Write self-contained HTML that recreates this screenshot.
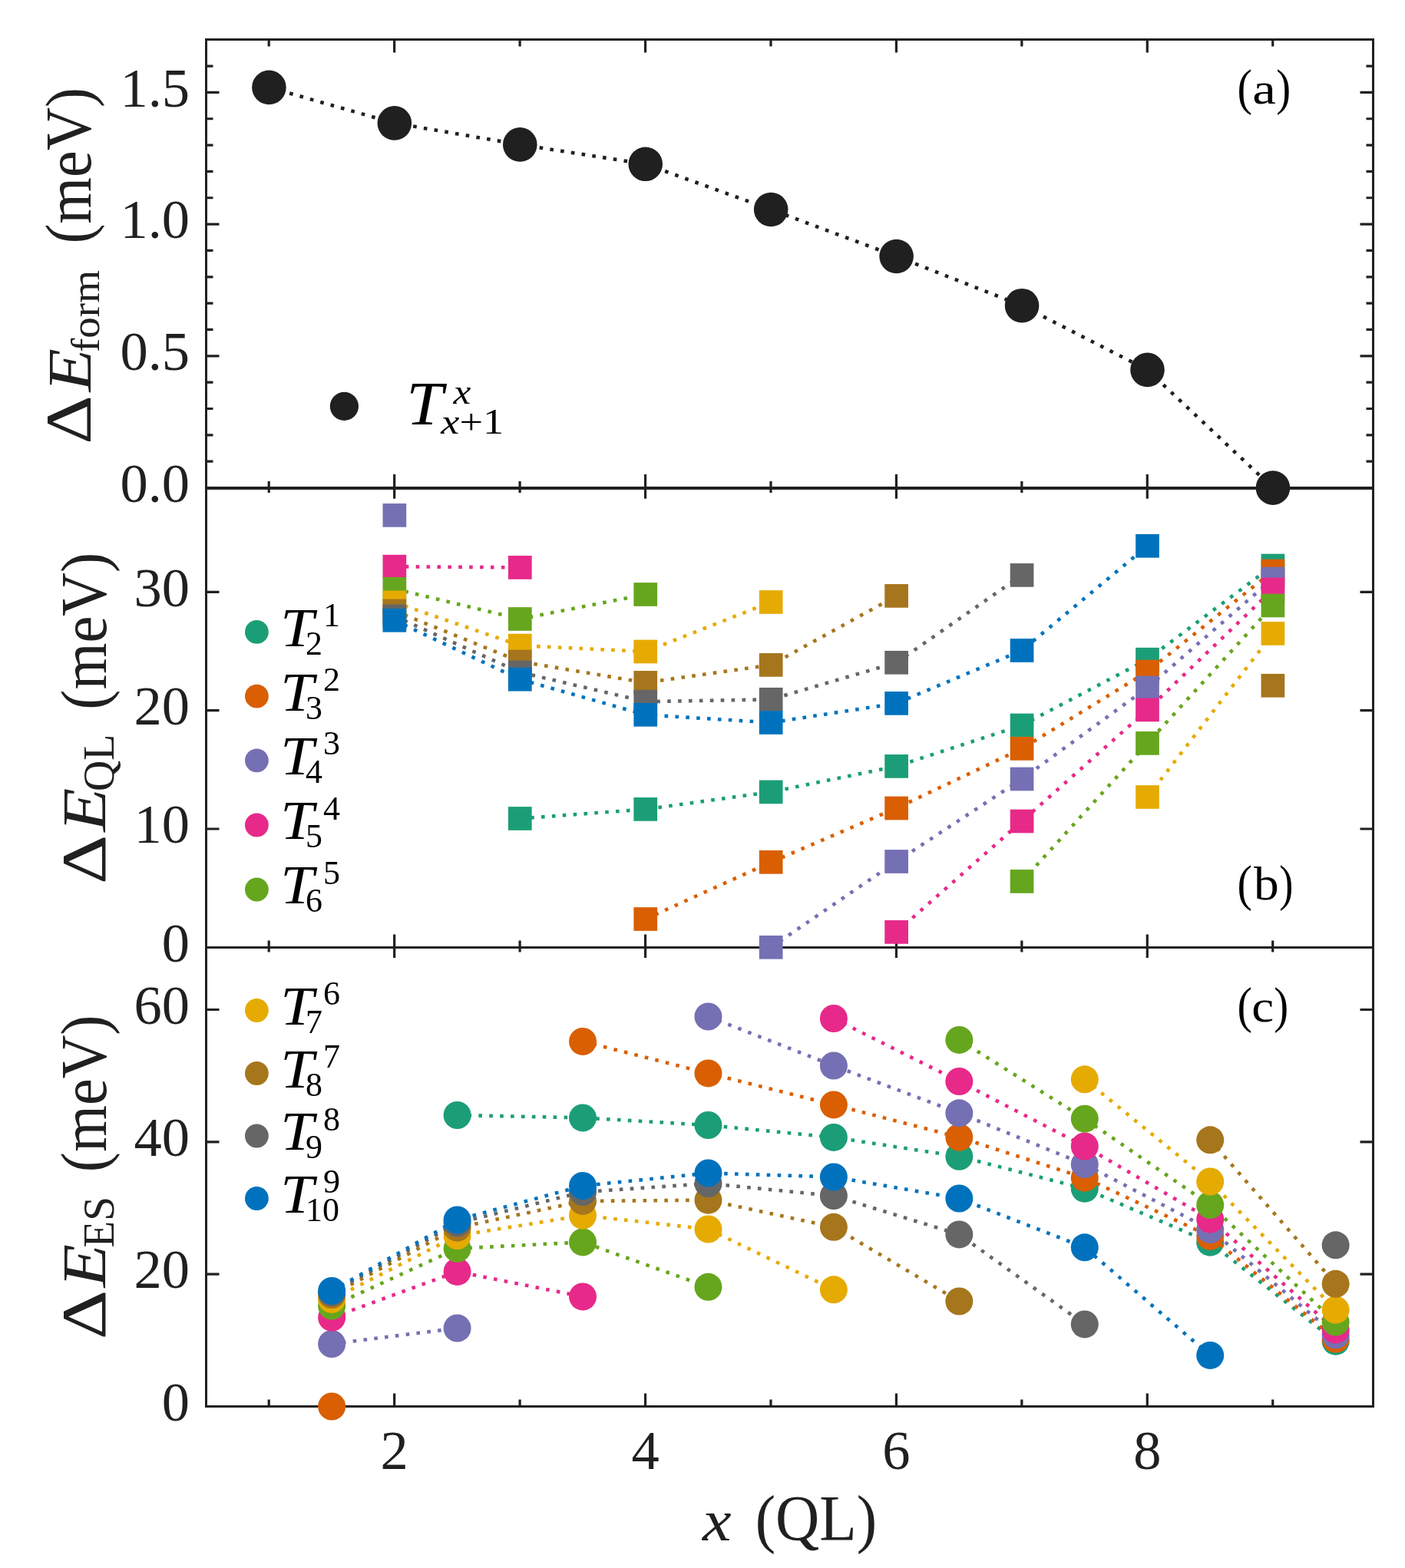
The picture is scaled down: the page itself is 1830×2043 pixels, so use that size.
<!DOCTYPE html>
<html><head><meta charset="utf-8"><title>Figure</title>
<style>
html,body{margin:0;padding:0;background:#fff;}
body{width:1830px;height:2043px;overflow:hidden;}
svg{display:block;font-family:'Liberation Serif', 'DejaVu Serif', serif;}
</style></head>
<body>
<svg width="1830" height="2043" viewBox="0 0 1830 2043">
<rect width="1830" height="2043" fill="#fff"/>
<path d="M350.22 51.5L350.22 60.5 M350.22 636L350.22 627 M350.22 636L350.22 642 M350.22 1234.5L350.22 1225.5 M350.22 1234.5L350.22 1240.5 M350.22 1832.5L350.22 1823.5 M513.66 51.5L513.66 68.5 M513.66 636L513.66 618 M513.66 636L513.66 649.8 M513.66 1234.5L513.66 1217.5 M513.66 1234.5L513.66 1247.9 M513.66 1832.5L513.66 1815.5 M677.1 51.5L677.1 60.5 M677.1 636L677.1 627 M677.1 636L677.1 642 M677.1 1234.5L677.1 1225.5 M677.1 1234.5L677.1 1240.5 M677.1 1832.5L677.1 1823.5 M840.54 51.5L840.54 68.5 M840.54 636L840.54 618 M840.54 636L840.54 649.8 M840.54 1234.5L840.54 1217.5 M840.54 1234.5L840.54 1247.9 M840.54 1832.5L840.54 1815.5 M1003.98 51.5L1003.98 60.5 M1003.98 636L1003.98 627 M1003.98 636L1003.98 642 M1003.98 1234.5L1003.98 1225.5 M1003.98 1234.5L1003.98 1240.5 M1003.98 1832.5L1003.98 1823.5 M1167.42 51.5L1167.42 68.5 M1167.42 636L1167.42 618 M1167.42 636L1167.42 649.8 M1167.42 1234.5L1167.42 1217.5 M1167.42 1234.5L1167.42 1247.9 M1167.42 1832.5L1167.42 1815.5 M1330.86 51.5L1330.86 60.5 M1330.86 636L1330.86 627 M1330.86 636L1330.86 642 M1330.86 1234.5L1330.86 1225.5 M1330.86 1234.5L1330.86 1240.5 M1330.86 1832.5L1330.86 1823.5 M1494.3 51.5L1494.3 68.5 M1494.3 636L1494.3 618 M1494.3 636L1494.3 649.8 M1494.3 1234.5L1494.3 1217.5 M1494.3 1234.5L1494.3 1247.9 M1494.3 1832.5L1494.3 1815.5 M1657.74 51.5L1657.74 60.5 M1657.74 636L1657.74 627 M1657.74 636L1657.74 642 M1657.74 1234.5L1657.74 1225.5 M1657.74 1234.5L1657.74 1240.5 M1657.74 1832.5L1657.74 1823.5 M268.5 601.16L277.5 601.16 M1788.5 601.16L1779.5 601.16 M268.5 566.82L277.5 566.82 M1788.5 566.82L1779.5 566.82 M268.5 532.48L277.5 532.48 M1788.5 532.48L1779.5 532.48 M268.5 498.14L277.5 498.14 M1788.5 498.14L1779.5 498.14 M268.5 463.8L285.5 463.8 M1788.5 463.8L1771.5 463.8 M268.5 429.46L277.5 429.46 M1788.5 429.46L1779.5 429.46 M268.5 395.12L277.5 395.12 M1788.5 395.12L1779.5 395.12 M268.5 360.78L277.5 360.78 M1788.5 360.78L1779.5 360.78 M268.5 326.44L277.5 326.44 M1788.5 326.44L1779.5 326.44 M268.5 292.1L285.5 292.1 M1788.5 292.1L1771.5 292.1 M268.5 257.76L277.5 257.76 M1788.5 257.76L1779.5 257.76 M268.5 223.42L277.5 223.42 M1788.5 223.42L1779.5 223.42 M268.5 189.08L277.5 189.08 M1788.5 189.08L1779.5 189.08 M268.5 154.74L277.5 154.74 M1788.5 154.74L1779.5 154.74 M268.5 120.4L285.5 120.4 M1788.5 120.4L1771.5 120.4 M268.5 86.06L277.5 86.06 M1788.5 86.06L1779.5 86.06 M268.5 1080L285.5 1080 M1788.5 1080L1771.5 1080 M268.5 925.7L285.5 925.7 M1788.5 925.7L1771.5 925.7 M268.5 771.4L285.5 771.4 M1788.5 771.4L1771.5 771.4 M268.5 1660.1L285.5 1660.1 M1788.5 1660.1L1771.5 1660.1 M268.5 1487.8L285.5 1487.8 M1788.5 1487.8L1771.5 1487.8 M268.5 1315.5L285.5 1315.5 M1788.5 1315.5L1771.5 1315.5" stroke="#202020" stroke-width="3.2" fill="none"/>
<rect x="268.5" y="51.5" width="1520" height="1781" fill="none" stroke="#202020" stroke-width="3"/>
<line x1="268.5" y1="636" x2="1788.5" y2="636" stroke="#202020" stroke-width="4"/>
<line x1="268.5" y1="1234.5" x2="1788.5" y2="1234.5" stroke="#202020" stroke-width="3"/>
<path d="M350.42 113.9 L513.86 160.4 L677.3 188.4 L840.74 213.8 L1004.18 273 L1167.62 334 L1331.06 398.2 L1494.5 481.9 L1657.94 635.6" fill="none" stroke="#202020" stroke-width="4.6" stroke-dasharray="4.6 9.3"/>
<circle cx="350.42" cy="113.9" r="22.3" fill="#202020"/>
<circle cx="513.86" cy="160.4" r="22.3" fill="#202020"/>
<circle cx="677.3" cy="188.4" r="22.3" fill="#202020"/>
<circle cx="840.74" cy="213.8" r="22.3" fill="#202020"/>
<circle cx="1004.18" cy="273" r="22.3" fill="#202020"/>
<circle cx="1167.62" cy="334" r="22.3" fill="#202020"/>
<circle cx="1331.06" cy="398.2" r="22.3" fill="#202020"/>
<circle cx="1494.5" cy="481.9" r="22.3" fill="#202020"/>
<circle cx="1657.94" cy="635.6" r="22.3" fill="#202020"/>
<path d="M677.3 1066.5 L840.74 1054.4 L1004.18 1031.9 L1167.62 998.4 L1331.06 945 L1494.5 859.2 L1657.94 737" fill="none" stroke="#1b9e77" stroke-width="4.6" stroke-dasharray="4.6 9.3"/>
<rect x="661.95" y="1051.15" width="30.7" height="30.7" fill="#1b9e77"/>
<rect x="825.39" y="1039.05" width="30.7" height="30.7" fill="#1b9e77"/>
<rect x="988.83" y="1016.55" width="30.7" height="30.7" fill="#1b9e77"/>
<rect x="1152.27" y="983.05" width="30.7" height="30.7" fill="#1b9e77"/>
<rect x="1315.71" y="929.65" width="30.7" height="30.7" fill="#1b9e77"/>
<rect x="1479.15" y="843.85" width="30.7" height="30.7" fill="#1b9e77"/>
<rect x="1642.59" y="721.65" width="30.7" height="30.7" fill="#1b9e77"/>
<path d="M840.74 1197.5 L1004.18 1123.3 L1167.62 1053 L1331.06 975.4 L1494.5 875.1 L1657.94 744" fill="none" stroke="#d95f02" stroke-width="4.6" stroke-dasharray="4.6 9.3"/>
<rect x="825.39" y="1182.15" width="30.7" height="30.7" fill="#d95f02"/>
<rect x="988.83" y="1107.95" width="30.7" height="30.7" fill="#d95f02"/>
<rect x="1152.27" y="1037.65" width="30.7" height="30.7" fill="#d95f02"/>
<rect x="1315.71" y="960.05" width="30.7" height="30.7" fill="#d95f02"/>
<rect x="1479.15" y="859.75" width="30.7" height="30.7" fill="#d95f02"/>
<rect x="1642.59" y="728.65" width="30.7" height="30.7" fill="#d95f02"/>
<rect x="498.51" y="656.05" width="30.7" height="30.7" fill="#7570b3"/>
<path d="M1004.18 1234.3 L1167.62 1122.5 L1331.06 1015 L1494.5 896 L1657.94 754" fill="none" stroke="#7570b3" stroke-width="4.6" stroke-dasharray="4.6 9.3"/>
<rect x="988.83" y="1218.95" width="30.7" height="30.7" fill="#7570b3"/>
<rect x="1152.27" y="1107.15" width="30.7" height="30.7" fill="#7570b3"/>
<rect x="1315.71" y="999.65" width="30.7" height="30.7" fill="#7570b3"/>
<rect x="1479.15" y="880.65" width="30.7" height="30.7" fill="#7570b3"/>
<rect x="1642.59" y="738.65" width="30.7" height="30.7" fill="#7570b3"/>
<path d="M513.86 738.2 L677.3 739.4" fill="none" stroke="#e7298a" stroke-width="4.6" stroke-dasharray="4.6 9.3"/>
<rect x="498.51" y="722.85" width="30.7" height="30.7" fill="#e7298a"/>
<rect x="661.95" y="724.05" width="30.7" height="30.7" fill="#e7298a"/>
<path d="M1167.62 1214.4 L1331.06 1070 L1494.5 924.9 L1657.94 768" fill="none" stroke="#e7298a" stroke-width="4.6" stroke-dasharray="4.6 9.3"/>
<rect x="1152.27" y="1199.05" width="30.7" height="30.7" fill="#e7298a"/>
<rect x="1315.71" y="1054.65" width="30.7" height="30.7" fill="#e7298a"/>
<rect x="1479.15" y="909.55" width="30.7" height="30.7" fill="#e7298a"/>
<rect x="1642.59" y="752.65" width="30.7" height="30.7" fill="#e7298a"/>
<path d="M513.86 767.3 L677.3 806.5 L840.74 774.5" fill="none" stroke="#66a61e" stroke-width="4.6" stroke-dasharray="4.6 9.3"/>
<rect x="498.51" y="751.95" width="30.7" height="30.7" fill="#66a61e"/>
<rect x="661.95" y="791.15" width="30.7" height="30.7" fill="#66a61e"/>
<rect x="825.39" y="759.15" width="30.7" height="30.7" fill="#66a61e"/>
<path d="M1331.06 1148.4 L1494.5 968.4 L1657.94 789" fill="none" stroke="#66a61e" stroke-width="4.6" stroke-dasharray="4.6 9.3"/>
<rect x="1315.71" y="1133.05" width="30.7" height="30.7" fill="#66a61e"/>
<rect x="1479.15" y="953.05" width="30.7" height="30.7" fill="#66a61e"/>
<rect x="1642.59" y="773.65" width="30.7" height="30.7" fill="#66a61e"/>
<path d="M513.86 784.9 L677.3 841.1 L840.74 849 L1004.18 784.5" fill="none" stroke="#e6ab02" stroke-width="4.6" stroke-dasharray="4.6 9.3"/>
<rect x="498.51" y="769.55" width="30.7" height="30.7" fill="#e6ab02"/>
<rect x="661.95" y="825.75" width="30.7" height="30.7" fill="#e6ab02"/>
<rect x="825.39" y="833.65" width="30.7" height="30.7" fill="#e6ab02"/>
<rect x="988.83" y="769.15" width="30.7" height="30.7" fill="#e6ab02"/>
<path d="M1494.5 1038.5 L1657.94 825.4" fill="none" stroke="#e6ab02" stroke-width="4.6" stroke-dasharray="4.6 9.3"/>
<rect x="1479.15" y="1023.15" width="30.7" height="30.7" fill="#e6ab02"/>
<rect x="1642.59" y="810.05" width="30.7" height="30.7" fill="#e6ab02"/>
<path d="M513.86 795.9 L677.3 862 L840.74 889.4 L1004.18 866.4 L1167.62 776.4" fill="none" stroke="#a6761d" stroke-width="4.6" stroke-dasharray="4.6 9.3"/>
<rect x="498.51" y="780.55" width="30.7" height="30.7" fill="#a6761d"/>
<rect x="661.95" y="846.65" width="30.7" height="30.7" fill="#a6761d"/>
<rect x="825.39" y="874.05" width="30.7" height="30.7" fill="#a6761d"/>
<rect x="988.83" y="851.05" width="30.7" height="30.7" fill="#a6761d"/>
<rect x="1152.27" y="761.05" width="30.7" height="30.7" fill="#a6761d"/>
<rect x="1642.59" y="877.95" width="30.7" height="30.7" fill="#a6761d"/>
<path d="M513.86 802.9 L677.3 875.9 L840.74 914.2 L1004.18 911.3 L1167.62 863.3 L1331.06 749.4" fill="none" stroke="#666666" stroke-width="4.6" stroke-dasharray="4.6 9.3"/>
<rect x="498.51" y="787.55" width="30.7" height="30.7" fill="#666666"/>
<rect x="661.95" y="860.55" width="30.7" height="30.7" fill="#666666"/>
<rect x="825.39" y="898.85" width="30.7" height="30.7" fill="#666666"/>
<rect x="988.83" y="895.95" width="30.7" height="30.7" fill="#666666"/>
<rect x="1152.27" y="847.95" width="30.7" height="30.7" fill="#666666"/>
<rect x="1315.71" y="734.05" width="30.7" height="30.7" fill="#666666"/>
<path d="M513.86 808.3 L677.3 885.2 L840.74 931.3 L1004.18 941.5 L1167.62 916.4 L1331.06 847.5 L1494.5 711.3" fill="none" stroke="#0072bd" stroke-width="4.6" stroke-dasharray="4.6 9.3"/>
<rect x="498.51" y="792.95" width="30.7" height="30.7" fill="#0072bd"/>
<rect x="661.95" y="869.85" width="30.7" height="30.7" fill="#0072bd"/>
<rect x="825.39" y="915.95" width="30.7" height="30.7" fill="#0072bd"/>
<rect x="988.83" y="926.15" width="30.7" height="30.7" fill="#0072bd"/>
<rect x="1152.27" y="901.05" width="30.7" height="30.7" fill="#0072bd"/>
<rect x="1315.71" y="832.15" width="30.7" height="30.7" fill="#0072bd"/>
<rect x="1479.15" y="695.95" width="30.7" height="30.7" fill="#0072bd"/>
<path d="M595.58 1453 L759.02 1456.4 L922.46 1466 L1085.9 1481.9 L1249.34 1506.8 L1412.78 1548.7 L1576.22 1618.7 L1739.66 1747.7" fill="none" stroke="#1b9e77" stroke-width="4.6" stroke-dasharray="4.6 9.3"/>
<circle cx="595.58" cy="1453" r="18" fill="#1b9e77"/>
<circle cx="759.02" cy="1456.4" r="18" fill="#1b9e77"/>
<circle cx="922.46" cy="1466" r="18" fill="#1b9e77"/>
<circle cx="1085.9" cy="1481.9" r="18" fill="#1b9e77"/>
<circle cx="1249.34" cy="1506.8" r="18" fill="#1b9e77"/>
<circle cx="1412.78" cy="1548.7" r="18" fill="#1b9e77"/>
<circle cx="1576.22" cy="1618.7" r="18" fill="#1b9e77"/>
<circle cx="1739.66" cy="1747.7" r="18" fill="#1b9e77"/>
<circle cx="432.14" cy="1832.5" r="18" fill="#d95f02"/>
<path d="M759.02 1356.9 L922.46 1398.4 L1085.9 1439.4 L1249.34 1481.8 L1412.78 1534.7 L1576.22 1610.8 L1739.66 1744.7" fill="none" stroke="#d95f02" stroke-width="4.6" stroke-dasharray="4.6 9.3"/>
<circle cx="759.02" cy="1356.9" r="18" fill="#d95f02"/>
<circle cx="922.46" cy="1398.4" r="18" fill="#d95f02"/>
<circle cx="1085.9" cy="1439.4" r="18" fill="#d95f02"/>
<circle cx="1249.34" cy="1481.8" r="18" fill="#d95f02"/>
<circle cx="1412.78" cy="1534.7" r="18" fill="#d95f02"/>
<circle cx="1576.22" cy="1610.8" r="18" fill="#d95f02"/>
<circle cx="1739.66" cy="1744.7" r="18" fill="#d95f02"/>
<path d="M432.14 1751 L595.58 1730.5" fill="none" stroke="#7570b3" stroke-width="4.6" stroke-dasharray="4.6 9.3"/>
<circle cx="432.14" cy="1751" r="18" fill="#7570b3"/>
<circle cx="595.58" cy="1730.5" r="18" fill="#7570b3"/>
<path d="M922.46 1324.5 L1085.9 1388.5 L1249.34 1450.3 L1412.78 1517 L1576.22 1602 L1739.66 1739.3" fill="none" stroke="#7570b3" stroke-width="4.6" stroke-dasharray="4.6 9.3"/>
<circle cx="922.46" cy="1324.5" r="18" fill="#7570b3"/>
<circle cx="1085.9" cy="1388.5" r="18" fill="#7570b3"/>
<circle cx="1249.34" cy="1450.3" r="18" fill="#7570b3"/>
<circle cx="1412.78" cy="1517" r="18" fill="#7570b3"/>
<circle cx="1576.22" cy="1602" r="18" fill="#7570b3"/>
<circle cx="1739.66" cy="1739.3" r="18" fill="#7570b3"/>
<path d="M432.14 1716.7 L595.58 1656.9 L759.02 1689.4" fill="none" stroke="#e7298a" stroke-width="4.6" stroke-dasharray="4.6 9.3"/>
<circle cx="432.14" cy="1716.7" r="18" fill="#e7298a"/>
<circle cx="595.58" cy="1656.9" r="18" fill="#e7298a"/>
<circle cx="759.02" cy="1689.4" r="18" fill="#e7298a"/>
<path d="M1085.9 1327 L1249.34 1409 L1412.78 1493.5 L1576.22 1588.7 L1739.66 1732.6" fill="none" stroke="#e7298a" stroke-width="4.6" stroke-dasharray="4.6 9.3"/>
<circle cx="1085.9" cy="1327" r="18" fill="#e7298a"/>
<circle cx="1249.34" cy="1409" r="18" fill="#e7298a"/>
<circle cx="1412.78" cy="1493.5" r="18" fill="#e7298a"/>
<circle cx="1576.22" cy="1588.7" r="18" fill="#e7298a"/>
<circle cx="1739.66" cy="1732.6" r="18" fill="#e7298a"/>
<path d="M432.14 1701.7 L595.58 1626.8 L759.02 1618.4 L922.46 1676.8" fill="none" stroke="#66a61e" stroke-width="4.6" stroke-dasharray="4.6 9.3"/>
<circle cx="432.14" cy="1701.7" r="18" fill="#66a61e"/>
<circle cx="595.58" cy="1626.8" r="18" fill="#66a61e"/>
<circle cx="759.02" cy="1618.4" r="18" fill="#66a61e"/>
<circle cx="922.46" cy="1676.8" r="18" fill="#66a61e"/>
<path d="M1249.34 1354.9 L1412.78 1457.7 L1576.22 1570 L1739.66 1722.6" fill="none" stroke="#66a61e" stroke-width="4.6" stroke-dasharray="4.6 9.3"/>
<circle cx="1249.34" cy="1354.9" r="18" fill="#66a61e"/>
<circle cx="1412.78" cy="1457.7" r="18" fill="#66a61e"/>
<circle cx="1576.22" cy="1570" r="18" fill="#66a61e"/>
<circle cx="1739.66" cy="1722.6" r="18" fill="#66a61e"/>
<path d="M432.14 1692.9 L595.58 1610 L759.02 1583.7 L922.46 1601.5 L1085.9 1680.3" fill="none" stroke="#e6ab02" stroke-width="4.6" stroke-dasharray="4.6 9.3"/>
<circle cx="432.14" cy="1692.9" r="18" fill="#e6ab02"/>
<circle cx="595.58" cy="1610" r="18" fill="#e6ab02"/>
<circle cx="759.02" cy="1583.7" r="18" fill="#e6ab02"/>
<circle cx="922.46" cy="1601.5" r="18" fill="#e6ab02"/>
<circle cx="1085.9" cy="1680.3" r="18" fill="#e6ab02"/>
<path d="M1412.78 1406.3 L1576.22 1539.5 L1739.66 1706.7" fill="none" stroke="#e6ab02" stroke-width="4.6" stroke-dasharray="4.6 9.3"/>
<circle cx="1412.78" cy="1406.3" r="18" fill="#e6ab02"/>
<circle cx="1576.22" cy="1539.5" r="18" fill="#e6ab02"/>
<circle cx="1739.66" cy="1706.7" r="18" fill="#e6ab02"/>
<path d="M432.14 1687 L595.58 1599.7 L759.02 1564.9 L922.46 1563.7 L1085.9 1598.8 L1249.34 1695.5" fill="none" stroke="#a6761d" stroke-width="4.6" stroke-dasharray="4.6 9.3"/>
<circle cx="432.14" cy="1687" r="18" fill="#a6761d"/>
<circle cx="595.58" cy="1599.7" r="18" fill="#a6761d"/>
<circle cx="759.02" cy="1564.9" r="18" fill="#a6761d"/>
<circle cx="922.46" cy="1563.7" r="18" fill="#a6761d"/>
<circle cx="1085.9" cy="1598.8" r="18" fill="#a6761d"/>
<circle cx="1249.34" cy="1695.5" r="18" fill="#a6761d"/>
<path d="M1576.22 1485.3 L1739.66 1672.8" fill="none" stroke="#a6761d" stroke-width="4.6" stroke-dasharray="4.6 9.3"/>
<circle cx="1576.22" cy="1485.3" r="18" fill="#a6761d"/>
<circle cx="1739.66" cy="1672.8" r="18" fill="#a6761d"/>
<path d="M432.14 1684 L595.58 1593.6 L759.02 1553.1 L922.46 1542 L1085.9 1558.1 L1249.34 1608.4 L1412.78 1725.4" fill="none" stroke="#666666" stroke-width="4.6" stroke-dasharray="4.6 9.3"/>
<circle cx="432.14" cy="1684" r="18" fill="#666666"/>
<circle cx="595.58" cy="1593.6" r="18" fill="#666666"/>
<circle cx="759.02" cy="1553.1" r="18" fill="#666666"/>
<circle cx="922.46" cy="1542" r="18" fill="#666666"/>
<circle cx="1085.9" cy="1558.1" r="18" fill="#666666"/>
<circle cx="1249.34" cy="1608.4" r="18" fill="#666666"/>
<circle cx="1412.78" cy="1725.4" r="18" fill="#666666"/>
<circle cx="1739.66" cy="1622.3" r="18" fill="#666666"/>
<path d="M432.14 1681.9 L595.58 1589.5 L759.02 1545 L922.46 1528.5 L1085.9 1533.5 L1249.34 1561.5 L1412.78 1625.3 L1576.22 1765.9" fill="none" stroke="#0072bd" stroke-width="4.6" stroke-dasharray="4.6 9.3"/>
<circle cx="432.14" cy="1681.9" r="18" fill="#0072bd"/>
<circle cx="595.58" cy="1589.5" r="18" fill="#0072bd"/>
<circle cx="759.02" cy="1545" r="18" fill="#0072bd"/>
<circle cx="922.46" cy="1528.5" r="18" fill="#0072bd"/>
<circle cx="1085.9" cy="1533.5" r="18" fill="#0072bd"/>
<circle cx="1249.34" cy="1561.5" r="18" fill="#0072bd"/>
<circle cx="1412.78" cy="1625.3" r="18" fill="#0072bd"/>
<circle cx="1576.22" cy="1765.9" r="18" fill="#0072bd"/>
<text x="247" y="653.84" font-size="72.5" text-anchor="end" fill="#202020">0.0</text>
<text x="247" y="482.14" font-size="72.5" text-anchor="end" fill="#202020">0.5</text>
<text x="247" y="310.44" font-size="72.5" text-anchor="end" fill="#202020">1.0</text>
<text x="247" y="138.74" font-size="72.5" text-anchor="end" fill="#202020">1.5</text>
<text x="247" y="1252.64" font-size="72.5" text-anchor="end" fill="#202020">0</text>
<text x="247" y="1098.34" font-size="72.5" text-anchor="end" fill="#202020">10</text>
<text x="247" y="944.04" font-size="72.5" text-anchor="end" fill="#202020">20</text>
<text x="247" y="789.74" font-size="72.5" text-anchor="end" fill="#202020">30</text>
<text x="247" y="1850.74" font-size="72.5" text-anchor="end" fill="#202020">0</text>
<text x="247" y="1678.44" font-size="72.5" text-anchor="end" fill="#202020">20</text>
<text x="247" y="1506.14" font-size="72.5" text-anchor="end" fill="#202020">40</text>
<text x="247" y="1333.84" font-size="72.5" text-anchor="end" fill="#202020">60</text>
<text x="513.66" y="1914.24" font-size="72.5" text-anchor="middle" fill="#202020">2</text>
<text x="840.54" y="1914.24" font-size="72.5" text-anchor="middle" fill="#202020">4</text>
<text x="1167.42" y="1914.24" font-size="72.5" text-anchor="middle" fill="#202020">6</text>
<text x="1494.3" y="1914.24" font-size="72.5" text-anchor="middle" fill="#202020">8</text>
<text transform="matrix(0.84667 0 0 0.76957 914.95 2007.30)" font-size="100" fill="#202020"><tspan font-style="italic">x</tspan></text>
<text transform="matrix(0.79319 0 0 0.84444 983.63 2007.17)" font-size="100" fill="#202020">(QL)</text>
<text transform="matrix(0 -0.99298 0.84242 0 117.70 578.77)" font-size="100" fill="#202020">&#916;</text>
<text transform="matrix(0 -0.92333 0.80308 0 117.70 510.58)" font-size="100" fill="#202020"><tspan font-style="italic">E</tspan></text>
<text transform="matrix(0 -0.55000 0.51806 0 128.68 458.95)" font-size="100" fill="#202020">form</text>
<text transform="matrix(0 -0.78063 0.84611 0 118.13 317.62)" font-size="100" fill="#202020">(meV)</text>
<text transform="matrix(0 -1.00000 0.83182 0 136.90 1151.90)" font-size="100" fill="#202020">&#916;</text>
<text transform="matrix(0 -0.93500 0.81231 0 136.90 1083.87)" font-size="100" fill="#202020"><tspan font-style="italic">E</tspan></text>
<text transform="matrix(0 -0.55772 0.57073 0 148.20 1030.93)" font-size="100" fill="#202020">QL</text>
<text transform="matrix(0 -0.78538 0.85556 0 137.93 924.74)" font-size="100" fill="#202020">(meV)</text>
<text transform="matrix(0 -1.00351 0.83182 0 136.80 1745.21)" font-size="100" fill="#202020">&#916;</text>
<text transform="matrix(0 -0.92500 0.80923 0 136.80 1677.48)" font-size="100" fill="#202020"><tspan font-style="italic">E</tspan></text>
<text transform="matrix(0 -0.57196 0.56716 0 147.87 1625.72)" font-size="100" fill="#202020">ES</text>
<text transform="matrix(0 -0.78379 0.85556 0 137.93 1527.14)" font-size="100" fill="#202020">(meV)</text>
<text transform="matrix(0.58077 0 0 0.66444 1611.58 135.85)" font-size="100" fill="#000">(</text>
<text transform="matrix(0.69231 0 0 0.57917 1631.23 135.32)" font-size="100" fill="#000">a</text>
<text transform="matrix(0.56923 0 0 0.66444 1662.29 135.85)" font-size="100" fill="#000">)</text>
<text transform="matrix(0.58077 0 0 0.66444 1611.58 1172.85)" font-size="100" fill="#000">(</text>
<text transform="matrix(0.65435 0 0 0.61286 1632.90 1172.29)" font-size="100" fill="#000">b</text>
<text transform="matrix(0.54615 0 0 0.66444 1666.36 1172.85)" font-size="100" fill="#000">)</text>
<text transform="matrix(0.58077 0 0 0.65111 1611.58 1331.83)" font-size="100" fill="#000">(</text>
<text transform="matrix(0.65135 0 0 0.58750 1630.29 1331.41)" font-size="100" fill="#000">c</text>
<text transform="matrix(0.56923 0 0 0.65111 1659.29 1331.83)" font-size="100" fill="#000">)</text>
<circle cx="448.4" cy="529.4" r="18.6" fill="#202020"/>
<text transform="matrix(0.85902 0 0 0.79538 529.24 552.90)" font-size="100" fill="#000"><tspan font-style="italic">T</tspan></text>
<text transform="matrix(0.51333 0 0 0.45652 590.51 526.00)" font-size="100" fill="#000"><tspan font-style="italic">x</tspan></text>
<text transform="matrix(0.54315 0 0 0.46970 574.34 564.80)" font-size="100" fill="#000"><tspan font-style="italic">x</tspan>+1</text>
<circle cx="334.4" cy="823.4" r="15.4" fill="#1b9e77"/>
<text transform="matrix(0.78092 0 0 0.72308 365.35 841.80)" font-size="100" fill="#000"><tspan font-style="italic">T</tspan></text>
<text x="398" y="852.8" font-size="43.94" fill="#000">2</text>
<text x="421" y="815.9" font-size="43.94" fill="#000">1</text>
<circle cx="334.4" cy="907.2" r="15.4" fill="#d95f02"/>
<text transform="matrix(0.78092 0 0 0.72308 365.35 925.60)" font-size="100" fill="#000"><tspan font-style="italic">T</tspan></text>
<text x="398" y="936.6" font-size="43.94" fill="#000">3</text>
<text x="421" y="899.7" font-size="43.94" fill="#000">2</text>
<circle cx="334.4" cy="990.8" r="15.4" fill="#7570b3"/>
<text transform="matrix(0.78092 0 0 0.72308 365.35 1009.20)" font-size="100" fill="#000"><tspan font-style="italic">T</tspan></text>
<text x="398" y="1020.2" font-size="43.94" fill="#000">4</text>
<text x="421" y="983.3" font-size="43.94" fill="#000">3</text>
<circle cx="334.4" cy="1075" r="15.4" fill="#e7298a"/>
<text transform="matrix(0.78092 0 0 0.72308 365.35 1093.40)" font-size="100" fill="#000"><tspan font-style="italic">T</tspan></text>
<text x="398" y="1104.4" font-size="43.94" fill="#000">5</text>
<text x="421" y="1067.5" font-size="43.94" fill="#000">4</text>
<circle cx="334.4" cy="1159" r="15.4" fill="#66a61e"/>
<text transform="matrix(0.78092 0 0 0.72308 365.35 1177.40)" font-size="100" fill="#000"><tspan font-style="italic">T</tspan></text>
<text x="398" y="1188.4" font-size="43.94" fill="#000">6</text>
<text x="421" y="1151.5" font-size="43.94" fill="#000">5</text>
<circle cx="334.4" cy="1316.5" r="15.4" fill="#e6ab02"/>
<text transform="matrix(0.78092 0 0 0.72308 365.35 1334.90)" font-size="100" fill="#000"><tspan font-style="italic">T</tspan></text>
<text x="398" y="1345.9" font-size="43.94" fill="#000">7</text>
<text x="421" y="1309" font-size="43.94" fill="#000">6</text>
<circle cx="334.4" cy="1398.5" r="15.4" fill="#a6761d"/>
<text transform="matrix(0.78092 0 0 0.72308 365.35 1416.90)" font-size="100" fill="#000"><tspan font-style="italic">T</tspan></text>
<text x="398" y="1427.9" font-size="43.94" fill="#000">8</text>
<text x="421" y="1391" font-size="43.94" fill="#000">7</text>
<circle cx="334.4" cy="1480" r="15.4" fill="#666666"/>
<text transform="matrix(0.78092 0 0 0.72308 365.35 1498.40)" font-size="100" fill="#000"><tspan font-style="italic">T</tspan></text>
<text x="398" y="1509.4" font-size="43.94" fill="#000">9</text>
<text x="421" y="1472.5" font-size="43.94" fill="#000">8</text>
<circle cx="334.4" cy="1561.5" r="15.4" fill="#0072bd"/>
<text transform="matrix(0.78092 0 0 0.72308 365.35 1579.90)" font-size="100" fill="#000"><tspan font-style="italic">T</tspan></text>
<text x="398" y="1590.9" font-size="43.94" fill="#000">10</text>
<text x="421" y="1554" font-size="43.94" fill="#000">9</text>
</svg>
</body></html>
